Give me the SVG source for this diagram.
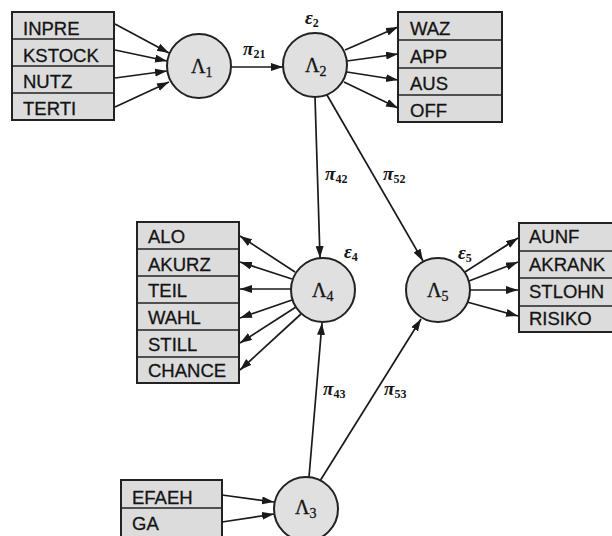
<svg xmlns="http://www.w3.org/2000/svg" width="612" height="536" viewBox="0 0 612 536">
<style>
.box{fill:#dcdcdc;stroke:#222;stroke-width:2}
.sep{stroke:#222;stroke-width:1.6}
.lbl{font-family:"Liberation Sans",Arial,sans-serif;font-size:18.5px;fill:#141414;stroke:#141414;stroke-width:0.3}
.circ{fill:#e0e0e0;stroke:#222;stroke-width:2}
.lam{font-family:"Liberation Serif","Times New Roman",serif;font-size:20px;fill:#141414;stroke:#141414;stroke-width:0.3}
.sub{font-size:14px}
.pi{font-family:"Liberation Serif","Times New Roman",serif;font-size:19px;font-style:italic;font-weight:bold;fill:#141414}
.psub{font-size:12px;font-style:normal;font-weight:bold}
.con line{stroke:#1a1a1a;stroke-width:1.7;marker-end:url(#ah)}
</style>
<defs>
<marker id="ah" markerUnits="userSpaceOnUse" markerWidth="13" markerHeight="9" refX="12" refY="4" orient="auto">
<path d="M0,0 L12,4 L0,8 z" fill="#1a1a1a"/>
</marker>
</defs>
<rect width="612" height="536" fill="#ffffff"/>

<g id="box1">
<rect class="box" x="12" y="12" width="102" height="108"/>
<line class="sep" x1="12" y1="39" x2="114" y2="39"/>
<line class="sep" x1="12" y1="66" x2="114" y2="66"/>
<line class="sep" x1="12" y1="93" x2="114" y2="93"/>
<text class="lbl" x="23" y="35">INPRE</text>
<text class="lbl" x="23" y="62">KSTOCK</text>
<text class="lbl" x="23" y="88">NUTZ</text>
<text class="lbl" x="23" y="115">TERTI</text>
</g>

<g id="box2">
<rect class="box" x="398" y="12" width="104" height="110"/>
<line class="sep" x1="398" y1="40" x2="502" y2="40"/>
<line class="sep" x1="398" y1="68" x2="502" y2="68"/>
<line class="sep" x1="398" y1="95" x2="502" y2="95"/>
<text class="lbl" x="410" y="35">WAZ</text>
<text class="lbl" x="410" y="63">APP</text>
<text class="lbl" x="410" y="90">AUS</text>
<text class="lbl" x="410" y="117">OFF</text>
</g>

<g id="box4">
<rect class="box" x="137" y="222" width="102" height="161"/>
<line class="sep" x1="137" y1="249" x2="239" y2="249"/>
<line class="sep" x1="137" y1="276" x2="239" y2="276"/>
<line class="sep" x1="137" y1="303" x2="239" y2="303"/>
<line class="sep" x1="137" y1="330" x2="239" y2="330"/>
<line class="sep" x1="137" y1="357" x2="239" y2="357"/>
<text class="lbl" x="148" y="243">ALO</text>
<text class="lbl" x="148" y="271">AKURZ</text>
<text class="lbl" x="148" y="297">TEIL</text>
<text class="lbl" x="148" y="324">WAHL</text>
<text class="lbl" x="148" y="351">STILL</text>
<text class="lbl" x="148" y="377">CHANCE</text>
</g>

<g id="box5">
<rect class="box" x="519" y="223" width="100" height="109"/>
<line class="sep" x1="519" y1="251" x2="619" y2="251"/>
<line class="sep" x1="519" y1="278" x2="619" y2="278"/>
<line class="sep" x1="519" y1="306" x2="619" y2="306"/>
<text class="lbl" x="529" y="243">AUNF</text>
<text class="lbl" x="529" y="271">AKRANK</text>
<text class="lbl" x="529" y="298">STLOHN</text>
<text class="lbl" x="529" y="325">RISIKO</text>
</g>

<g id="box3">
<rect class="box" x="121" y="480" width="101" height="62"/>
<line class="sep" x1="121" y1="508" x2="222" y2="508"/>
<text class="lbl" x="132" y="504">EFAEH</text>
<text class="lbl" x="132" y="530">GA</text>
</g>

<g id="connectors" class="con">
<line x1="115" y1="24" x2="169" y2="53"/>
<line x1="115" y1="50" x2="167" y2="61"/>
<line x1="115" y1="78" x2="167" y2="71"/>
<line x1="115" y1="107" x2="169" y2="82"/>
<line x1="231" y1="67" x2="283" y2="67"/>
<line x1="345" y1="50" x2="398" y2="27"/>
<line x1="347" y1="61" x2="398" y2="54"/>
<line x1="347" y1="72" x2="398" y2="80"/>
<line x1="344" y1="82" x2="398" y2="108"/>
<line x1="315" y1="97" x2="320" y2="258"/>
<line x1="327" y1="95" x2="423" y2="261"/>
<line x1="295" y1="272" x2="240" y2="236"/>
<line x1="292" y1="279" x2="240" y2="262"/>
<line x1="291" y1="289" x2="240" y2="289"/>
<line x1="292" y1="300" x2="240" y2="318"/>
<line x1="296" y1="307" x2="240" y2="343"/>
<line x1="301" y1="314" x2="240" y2="370"/>
<line x1="465" y1="272" x2="518" y2="238"/>
<line x1="469" y1="281" x2="518" y2="262"/>
<line x1="470" y1="290" x2="518" y2="290"/>
<line x1="467" y1="302" x2="518" y2="316"/>
<line x1="222" y1="495" x2="274" y2="502"/>
<line x1="222" y1="522" x2="274" y2="514"/>
<line x1="309" y1="477" x2="322" y2="323"/>
<line x1="320" y1="481" x2="421" y2="319"/>
</g>

<g id="edge-labels">
<text class="pi" x="243" y="55">π<tspan class="psub" dy="3">21</tspan></text>
<text class="pi" x="325" y="180">π<tspan class="psub" dy="3">42</tspan></text>
<text class="pi" x="383" y="180">π<tspan class="psub" dy="3">52</tspan></text>
<text class="pi" x="323" y="395">π<tspan class="psub" dy="3">43</tspan></text>
<text class="pi" x="384" y="395">π<tspan class="psub" dy="3">53</tspan></text>
</g>

<g id="L1">
<circle class="circ" cx="199" cy="66" r="32"/>
<text class="lam" x="191" y="73">Λ<tspan class="sub" dy="4">1</tspan></text>
</g>
<g id="L2">
<circle class="circ" cx="315" cy="65" r="32"/>
<text class="lam" x="305" y="72">Λ<tspan class="sub" dy="4">2</tspan></text>
<text class="pi" x="305" y="24">ε<tspan class="psub" dy="3">2</tspan></text>
</g>
<g id="L4">
<circle class="circ" cx="323" cy="290" r="32"/>
<text class="lam" x="312" y="297">Λ<tspan class="sub" dy="4">4</tspan></text>
<text class="pi" x="344" y="258">ε<tspan class="psub" dy="3">4</tspan></text>
</g>
<g id="L5">
<circle class="circ" cx="438" cy="290" r="32"/>
<text class="lam" x="427" y="297">Λ<tspan class="sub" dy="4">5</tspan></text>
<text class="pi" x="458" y="259">ε<tspan class="psub" dy="3">5</tspan></text>
</g>
<g id="L3">
<circle class="circ" cx="306" cy="509" r="32"/>
<text class="lam" x="295" y="514">Λ<tspan class="sub" dy="4">3</tspan></text>
</g>
</svg>
